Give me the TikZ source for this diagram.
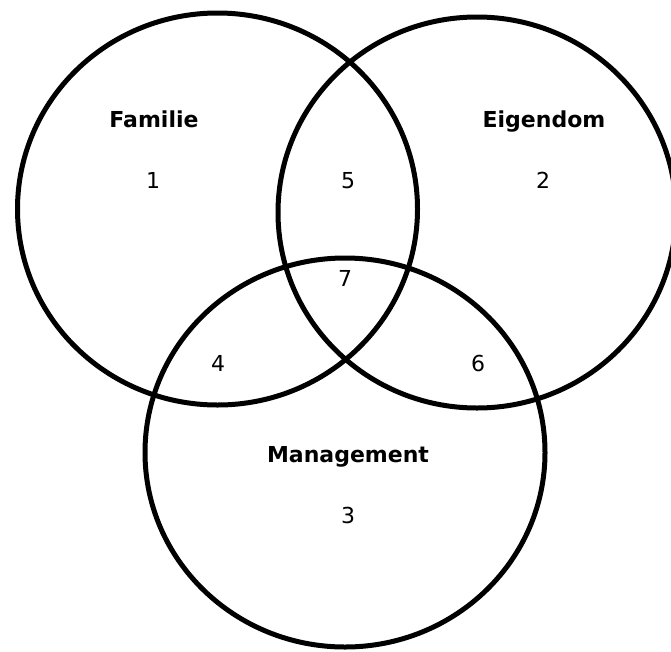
\documentclass[tikz,border=0pt]{standalone}
\usepackage{fontspec}
\setmainfont{DejaVu Sans}
\usetikzlibrary{shapes.geometric}
\begin{document}
\begin{tikzpicture}[x=1pt,y=-1pt,font=\fontsize{22}{26}\selectfont]
\useasboundingbox (0,0) rectangle (671,651);
\node[draw, ellipse, line width=5pt, minimum width=400pt, minimum height=392pt] (F) at (217.5,209) {};
\node[draw, ellipse, line width=5pt, minimum width=398pt, minimum height=391pt] (E) at (477,212.5) {};
\node[draw, ellipse, line width=5pt, minimum width=400pt, minimum height=389pt] (M) at (345,452.5) {};

\node[anchor=base, font=\fontsize{22}{26}\selectfont\bfseries] (fam) at (154,127) {Familie};
\node[anchor=base, font=\fontsize{22}{26}\selectfont\bfseries] (eig) at (544,127) {Eigendom};
\node[anchor=base, font=\fontsize{22}{26}\selectfont\bfseries] (man) at (348,462) {Management};

\node[anchor=base] (1) at (153,188) {1};
\node[anchor=base] (2) at (543,188) {2};
\node[anchor=base] (3) at (348,523) {3};
\node[anchor=base] (4) at (218,371) {4};
\node[anchor=base] (5) at (348,188) {5};
\node[anchor=base] (6) at (478,371) {6};
\node[anchor=base] (7) at (345,286) {7};
\end{tikzpicture}
\end{document}
